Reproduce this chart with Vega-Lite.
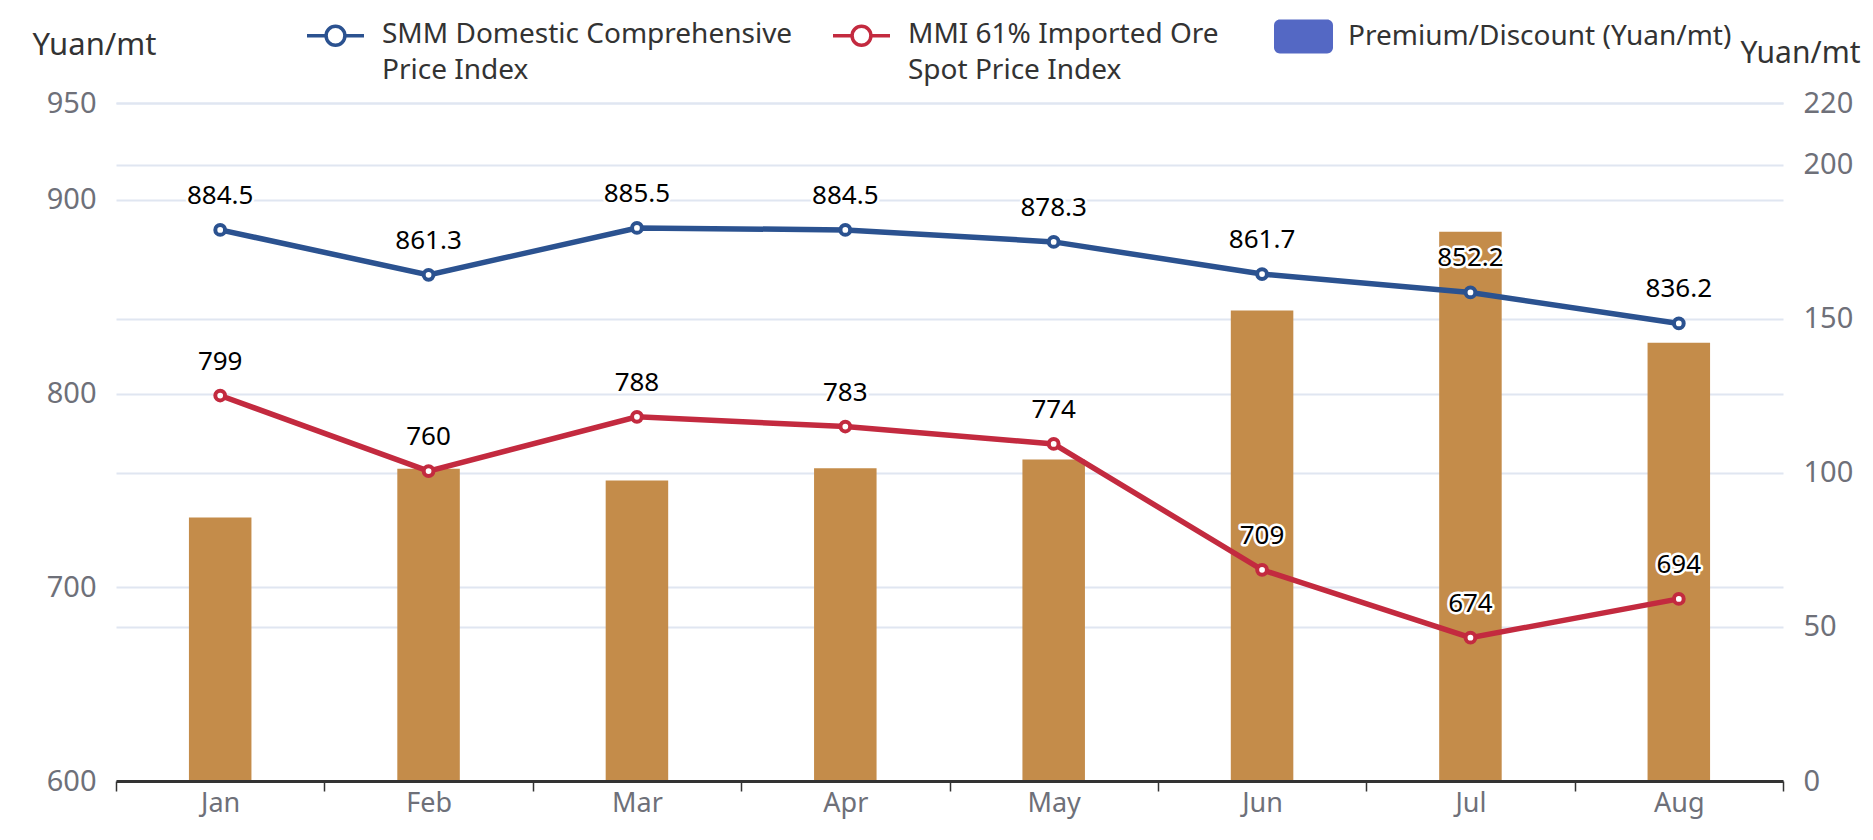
{
  "$schema": "https://vega.github.io/schema/vega-lite/v6.json",
  "autosize": "none",
  "width": 1667,
  "height": 678,
  "padding": {"left": 116, "top": 103, "right": 90, "bottom": 59},
  "background": "white",
  "datasets": {
    "bars": [
      {"month": "Jan", "premium": 85.5},
      {"month": "Feb", "premium": 101.3},
      {"month": "Mar", "premium": 97.5},
      {"month": "Apr", "premium": 101.5},
      {"month": "May", "premium": 104.3},
      {"month": "Jun", "premium": 152.7},
      {"month": "Jul", "premium": 178.2},
      {"month": "Aug", "premium": 142.2}
    ],
    "lines": [
      {"month": "Jan", "series": "SMM Domestic Comprehensive Price Index", "value": 884.5},
      {"month": "Feb", "series": "SMM Domestic Comprehensive Price Index", "value": 861.3},
      {"month": "Mar", "series": "SMM Domestic Comprehensive Price Index", "value": 885.5},
      {"month": "Apr", "series": "SMM Domestic Comprehensive Price Index", "value": 884.5},
      {"month": "May", "series": "SMM Domestic Comprehensive Price Index", "value": 878.3},
      {"month": "Jun", "series": "SMM Domestic Comprehensive Price Index", "value": 861.7},
      {"month": "Jul", "series": "SMM Domestic Comprehensive Price Index", "value": 852.2},
      {"month": "Aug", "series": "SMM Domestic Comprehensive Price Index", "value": 836.2},
      {"month": "Jan", "series": "MMI 61% Imported Ore Spot Price Index", "value": 799},
      {"month": "Feb", "series": "MMI 61% Imported Ore Spot Price Index", "value": 760},
      {"month": "Mar", "series": "MMI 61% Imported Ore Spot Price Index", "value": 788},
      {"month": "Apr", "series": "MMI 61% Imported Ore Spot Price Index", "value": 783},
      {"month": "May", "series": "MMI 61% Imported Ore Spot Price Index", "value": 774},
      {"month": "Jun", "series": "MMI 61% Imported Ore Spot Price Index", "value": 709},
      {"month": "Jul", "series": "MMI 61% Imported Ore Spot Price Index", "value": 674},
      {"month": "Aug", "series": "MMI 61% Imported Ore Spot Price Index", "value": 694}
    ]
  },
  "layer": [
    {
      "data": {"name": "bars"},
      "encoding": {
        "x": {
          "field": "month", "type": "nominal",
          "sort": ["Jan", "Feb", "Mar", "Apr", "May", "Jun", "Jul", "Aug"],
          "scale": {"paddingInner": 0, "paddingOuter": 0},
          "axis": {
            "title": null, "labelAngle": 0, "tickBand": "extent",
            "domainColor": "#333", "domainWidth": 3,
            "tickColor": "#333", "tickWidth": 1.5, "tickSize": 10,
            "labelPadding": -1, "labelFontSize": 27, "labelColor": "#6e7079",
            "grid": false, "zindex": 1
          }
        },
        "y": {
          "field": "premium", "type": "quantitative",
          "scale": {"domain": [0, 220], "nice": false},
          "axis": {
            "orient": "right", "values": [0, 50, 100, 150, 200, 220],
            "title": "Yuan/mt", "titleAngle": 0, "titleX": -43, "titleY": -50,
            "titleAlign": "left", "titleBaseline": "middle",
            "titleFontSize": 30, "titleFontWeight": "normal", "titleColor": "#333",
            "domain": false, "ticks": false, "labelPadding": 20,
            "labelFontSize": 29, "labelColor": "#6e7079",
            "grid": true, "gridColor": "#e0e6f1", "gridWidth": 2
          }
        }
      },
      "layer": [
        {
          "mark": {"type": "bar", "width": {"band": 0.3}, "color": "#c48c4a"}
        },
        {
          "mark": {"type": "bar", "width": {"band": 0.3}, "opacity": 0},
          "encoding": {
            "fill": {
              "datum": "Premium/Discount (Yuan/mt)", "type": "nominal",
              "scale": {"range": ["#5468c4"]},
              "legend": {
                "orient": "none", "legendX": 1158, "legendY": -96,
                "title": null, "padding": 0,
                "symbolType": "M-0.8,-0.576L0.8,-0.576A0.2,0.2 0 0 1 1,-0.376L1,0.376A0.2,0.2 0 0 1 0.8,0.576L-0.8,0.576A0.2,0.2 0 0 1 -1,0.376L-1,-0.376A0.2,0.2 0 0 1 -0.8,-0.576Z",
                "symbolSize": 3481, "symbolStrokeWidth": 0, "symbolOpacity": 1,
                "labelOffset": 15, "labelFontSize": 28, "labelColor": "#333", "labelLimit": 600
              }
            }
          }
        }
      ]
    },
    {
      "data": {"name": "lines"},
      "encoding": {
        "x": {
          "field": "month", "type": "nominal",
          "sort": ["Jan", "Feb", "Mar", "Apr", "May", "Jun", "Jul", "Aug"]
        },
        "y": {
          "field": "value", "type": "quantitative",
          "scale": {"domain": [600, 950], "nice": false, "zero": false},
          "axis": {
            "orient": "left", "values": [600, 700, 800, 900, 950],
            "title": "Yuan/mt", "titleAngle": 0, "titleX": -84, "titleY": -58,
            "titleAlign": "left", "titleBaseline": "middle",
            "titleFontSize": 31, "titleFontWeight": "normal", "titleColor": "#333",
            "domain": false, "ticks": false, "labelPadding": 20,
            "labelFontSize": 29, "labelColor": "#6e7079",
            "grid": true, "gridColor": "#e0e6f1", "gridWidth": 2
          }
        }
      },
      "layer": [
        {
          "mark": {"type": "line", "strokeWidth": 5.5},
          "encoding": {
            "stroke": {
              "field": "series", "type": "nominal",
              "scale": {
                "domain": ["SMM Domestic Comprehensive Price Index", "MMI 61% Imported Ore Spot Price Index"],
                "range": ["#2b5290", "#c32a3f"]
              },
              "legend": {
                "orient": "none", "legendX": 189, "legendY": -98,
                "direction": "horizontal", "title": null, "padding": 0,
                "columnPadding": 33,
                "symbolType": "M-1,0L-0.33,0M0.33,0L1,0M0.33,0A0.33,0.33 0 1 1 -0.33,0A0.33,0.33 0 1 1 0.33,0Z",
                "symbolSize": 3249, "symbolStrokeWidth": 3.5,
                "labelOffset": 16, "labelFontSize": 28, "labelColor": "#333", "labelLimit": 600,
                "labelExpr": "datum.label == 'SMM Domestic Comprehensive Price Index' ? ['SMM Domestic Comprehensive', 'Price Index'] : ['MMI 61% Imported Ore', 'Spot Price Index']",
                "encode": {
                  "symbols": {"update": {"fill": {"value": "white"}}},
                  "labels": {"update": {"dy": {"value": -1}, "lineHeight": {"value": 36}}}
                }
              }
            }
          }
        },
        {
          "mark": {"type": "point", "filled": true, "fill": "white", "size": 95, "strokeWidth": 4, "opacity": 1},
          "encoding": {
            "stroke": {"field": "series", "type": "nominal"}
          }
        },
        {
          "mark": {"type": "text", "dy": -34, "fontSize": 26, "stroke": "white", "strokeWidth": 5, "strokeJoin": "round", "fill": "white"},
          "encoding": {"text": {"field": "value", "type": "quantitative"}}
        },
        {
          "mark": {"type": "text", "dy": -34, "fontSize": 26, "color": "#000"},
          "encoding": {"text": {"field": "value", "type": "quantitative"}}
        }
      ]
    }
  ],
  "resolve": {"scale": {"y": "independent"}},
  "config": {
    "view": {"stroke": null},
    "font": "Noto Sans"
  }
}
